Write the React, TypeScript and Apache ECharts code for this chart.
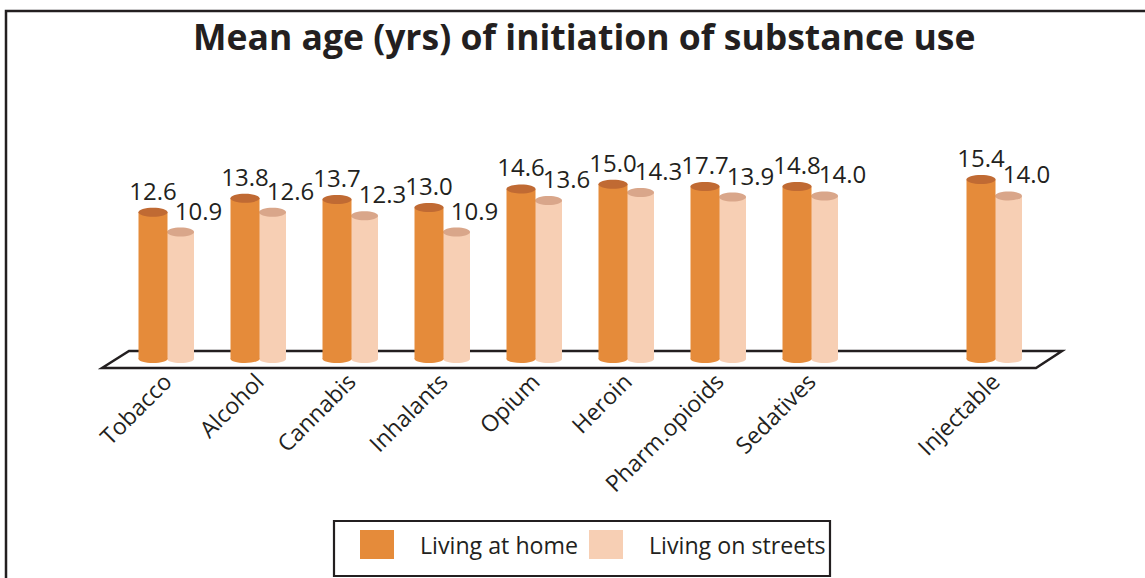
import React, { useEffect, useRef } from "react";
import * as echarts from "echarts";

const titleText = "Mean age (yrs) of initiation of substance use";
const categories = [
  "Tobacco",
  "Alcohol",
  "Cannabis",
  "Inhalants",
  "Opium",
  "Heroin",
  "Pharm.opioids",
  "Sedatives",
  "",
  "Injectable",
];
const seriesNames = ["Living at home", "Living on streets"];
// bar heights as drawn in the picture (Pharm.opioids bar is drawn at ~14.8 although labelled 17.7)
const homeValues = [12.6, 13.8, 13.7, 13.0, 14.6, 15.0, 14.8, 14.8, null, 15.4];
const homeLabels = ["12.6", "13.8", "13.7", "13.0", "14.6", "15.0", "17.7", "14.8", "", "15.4"];
const streetValues = [10.9, 12.6, 12.3, 10.9, 13.6, 14.3, 13.9, 14.0, null, 14.0];
const streetLabels = ["10.9", "12.6", "12.3", "10.9", "13.6", "14.3", "13.9", "14.0", "", "14.0"];

const FONT = "'Open Sans', 'DejaVu Sans', sans-serif";
const TEXT = "#231f20";
const HOME = "#e58b3a";
const STREET = "#f7cfb4";

function makeCylinder(
  offset: number,
  width: number,
  body: string,
  topColor: string,
  labels: string[],
  labelDx: number
) {
  return (params: any, api: any) => {
    const idx = api.value(0);
    const v = api.value(1);
    const top = api.coord([idx, v]);
    const base = api.coord([idx, 0]);
    const cx = top[0] + offset;
    const rx = width / 2;
    return {
      type: "group",
      children: [
        {
          type: "ellipse",
          shape: { cx, cy: base[1], rx, ry: 4 },
          style: { fill: body },
        },
        {
          type: "rect",
          shape: { x: cx - rx, y: top[1], width, height: base[1] - top[1] },
          style: { fill: body },
        },
        {
          type: "ellipse",
          shape: { cx, cy: top[1], rx, ry: 4.5 },
          style: { fill: topColor },
        },
        {
          type: "text",
          x: cx + labelDx,
          y: top[1] - 10,
          style: {
            text: labels[idx],
            fontSize: 24,
            fontFamily: FONT,
            fill: TEXT,
            align: "center",
            verticalAlign: "bottom",
          },
        },
      ],
    };
  };
}

export default function App() {
  const ref = useRef<HTMLDivElement>(null);
  useEffect(() => {
    document.body.style.margin = "0";
    if (!ref.current) return;
    const chart = echarts.init(ref.current, undefined, { renderer: "svg" });
    const homeData = categories
      .map((c, i) => [i, homeValues[i]])
      .filter((d) => d[1] != null);
    const streetData = categories
      .map((c, i) => [i, streetValues[i]])
      .filter((d) => d[1] != null);
    const legendBase = {
      top: 530,
      orient: "horizontal",
      icon: "rect",
      itemWidth: 34,
      itemHeight: 29,
      padding: 0,
      textStyle: {
        fontSize: 23.2,
        fontFamily: FONT,
        color: TEXT,
        padding: [0, 0, 0, 21],
      },
    };
    chart.setOption({
      animation: false,
      backgroundColor: "#ffffff",
      title: {
        text: titleText,
        left: 193,
        top: 18,
        padding: 0,
        textStyle: {
          fontSize: 35.5,
          fontWeight: "bold",
          fontFamily: FONT,
          color: TEXT,
        },
      },
      legend: [
        {
          ...legendBase,
          left: 360,
          data: [{ name: seriesNames[0], itemStyle: { color: HOME } }],
        },
        {
          ...legendBase,
          left: 589,
          data: [{ name: seriesNames[1], itemStyle: { color: STREET } }],
        },
      ],
      grid: { left: 121, right: 104, top: 126, bottom: 219 },
      xAxis: {
        type: "category",
        data: categories,
        axisLine: { show: false },
        axisTick: { show: false },
        splitLine: { show: false },
        axisLabel: {
          interval: 0,
          rotate: 45,
          margin: 18,
          fontSize: 23,
          fontFamily: FONT,
          color: TEXT,
        },
      },
      yAxis: {
        type: "value",
        min: 0,
        max: 20,
        show: false,
      },
      graphic: [
        {
          type: "rect",
          z: 0,
          shape: { x: 6, y: 11, width: 1300, height: 700 },
          style: { fill: "none", stroke: TEXT, lineWidth: 2.5 },
        },
        {
          type: "rect",
          z: 0,
          shape: { x: 334, y: 521, width: 496, height: 55 },
          style: { fill: "#ffffff", stroke: TEXT, lineWidth: 2.2 },
        },
        {
          type: "polygon",
          z: 0,
          shape: {
            points: [
              [102, 368],
              [129, 351],
              [1062, 351],
              [1036, 368],
            ],
          },
          style: { fill: "#ffffff", stroke: TEXT, lineWidth: 2.5 },
        },
      ],
      series: [
        {
          name: seriesNames[1],
          type: "custom",
          z: 3,
          itemStyle: { color: STREET },
          renderItem: makeCylinder(13.5, 27, STREET, "#d9a68a", streetLabels, 18),
          data: streetData,
        },
        {
          name: seriesNames[0],
          type: "custom",
          z: 4,
          itemStyle: { color: HOME },
          renderItem: makeCylinder(-14, 29, HOME, "#c06a33", homeLabels, 0),
          data: homeData,
        },
      ],
    });
    return () => chart.dispose();
  }, []);
  return <div ref={ref} style={{ width: 1145, height: 578 }} />;
}
